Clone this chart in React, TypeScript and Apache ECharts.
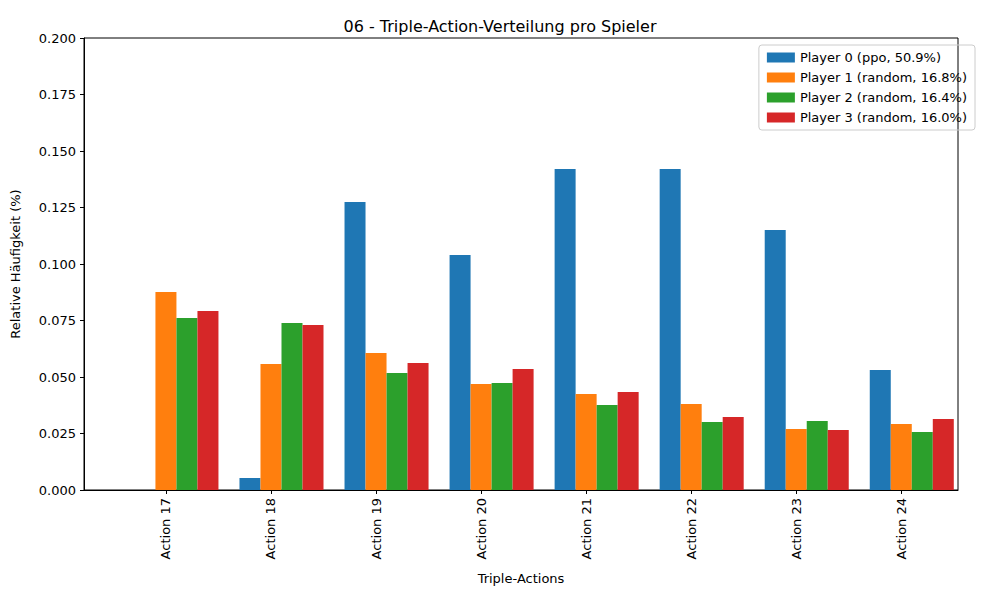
import React, { useEffect, useRef } from "react";
import * as echarts from "echarts";

const categories = ["Action 17", "Action 18", "Action 19", "Action 20", "Action 21", "Action 22", "Action 23", "Action 24"];
const seriesNames = ["Player 0 (ppo, 50.9%)", "Player 1 (random, 16.8%)", "Player 2 (random, 16.4%)", "Player 3 (random, 16.0%)"];
const colors = ["#1f77b4", "#ff7f0e", "#2ca02c", "#d62728"];
const player0 = [0, 0.0053, 0.1274, 0.104, 0.142, 0.142, 0.115, 0.0531];
const player1 = [0.0876, 0.0558, 0.0606, 0.0469, 0.0425, 0.038, 0.027, 0.0292];
const player2 = [0.0761, 0.0739, 0.0518, 0.0473, 0.0376, 0.0301, 0.0305, 0.0257];
const player3 = [0.0792, 0.073, 0.0562, 0.0535, 0.0434, 0.0323, 0.0265, 0.0314];
const allSeries = [player0, player1, player2, player3];
const offsets = [-0.2, 0, 0.2, 0.4];

export default function App() {
  const ref = useRef<HTMLDivElement>(null);
  useEffect(() => {
    const chart = echarts.init(ref.current!, null, { renderer: "svg" });
    const font = "DejaVu Sans";
    const idx = categories.map((_, i) => i);
    chart.setOption({
      animation: false,
      textStyle: { fontFamily: font },
      title: { text: "06 - Triple-Action-Verteilung pro Spieler", left: "center", top: 13, textStyle: { fontFamily: font, fontSize: 16, fontWeight: "normal", color: "#000" } },
      grid: { left: 84, right: 42, top: 38, bottom: 110, show: true, borderColor: "#000", borderWidth: 1, backgroundColor: "transparent" },
      legend: {
        orient: "vertical", right: 25, top: 45, itemWidth: 28, itemHeight: 10, itemGap: 7,
        borderColor: "#ccc", borderWidth: 1, borderRadius: 3, padding: [6, 8, 6, 8],
        textStyle: { fontFamily: font, fontSize: 13, color: "#000" },
        data: seriesNames.map((n) => ({ name: n, icon: "rect" })),
      },
      xAxis: {
        type: "value", min: -0.78, max: 7.54,
        name: "Triple-Actions", nameLocation: "middle", nameGap: 82,
        nameTextStyle: { fontFamily: font, fontSize: 13, color: "#000" },
        splitLine: { show: false },
        axisLine: { onZero: false, lineStyle: { color: "#000" } },
        axisTick: { customValues: idx, length: 4, lineStyle: { color: "#000" } },
        axisLabel: { customValues: idx, rotate: 90, fontSize: 13, color: "#000", fontFamily: font, formatter: (v: number) => categories[Math.round(v)] ?? "" },
      },
      yAxis: {
        type: "value", min: 0, max: 0.2, interval: 0.025,
        name: "Relative Häufigkeit (%)", nameLocation: "middle", nameGap: 62,
        nameTextStyle: { fontFamily: font, fontSize: 13, color: "#000" },
        splitLine: { show: false },
        axisLine: { show: true, onZero: false, lineStyle: { color: "#000" } },
        axisTick: { show: true, length: 4, lineStyle: { color: "#000" } },
        axisLabel: { fontSize: 13, color: "#000", fontFamily: font, formatter: (v: number) => v.toFixed(3) },
      },
      series: allSeries.map((vals, k) => ({
        name: seriesNames[k], type: "bar", barWidth: 21, barGap: "-100%",
        itemStyle: { color: colors[k] },
        data: vals.map((v, i) => [i + offsets[k], v]),
      })),
    });
    return () => chart.dispose();
  }, []);
  return <div ref={ref} style={{ position: "absolute", left: 0, top: 0, width: 1000, height: 600 }} />;
}
